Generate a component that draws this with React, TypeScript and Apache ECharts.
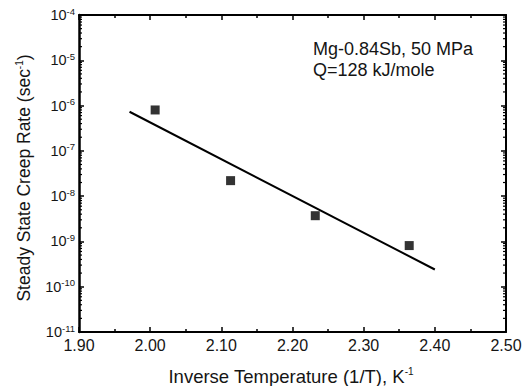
import React, { useEffect, useRef } from "react";
import * as echarts from "echarts";

const xValues = [2.007, 2.113, 2.232, 2.364];
const creepRates = [8.0e-7, 2.2e-8, 3.7e-9, 8.1e-10];
const fitX = [1.971, 2.40];
const fitY = [7.3e-7, 2.4e-10];
const yExponents = [-11, -10, -9, -8, -7, -6, -5, -4];
const minorMultipliers = [2, 3, 4, 5, 6, 7, 8, 9];

const X_MIN = 1.9;
const X_MAX = 2.5;

export default function App() {
  const ref = useRef<HTMLDivElement>(null);
  useEffect(() => {
    if (!ref.current) return;
    const chart = echarts.init(ref.current, undefined, { renderer: "svg" });
    const minorData: number[][] = [];
    yExponents.slice(0, -1).forEach((e) => {
      minorMultipliers.forEach((m) => minorData.push([X_MIN, m * Math.pow(10, e)]));
    });
    const font = "Liberation Sans, Arial, sans-serif";
    const txt = "#151515";
    const axisLine = { show: true, lineStyle: { color: "#000", width: 2 } };
    const yLabelFmt = (v: number) => {
      const e = Math.round(Math.log10(v));
      return `{b|10}{s|${e}}`;
    };
    const yRich = {
      b: { fontSize: 14.5, fontFamily: font, color: txt },
      s: { fontSize: 9.5, fontFamily: font, color: txt, padding: [0, 0, 8, 0] },
    };
    chart.setOption({
      animation: false,
      backgroundColor: "#fff",
      grid: { left: 79, right: 23, top: 15, bottom: 54, containLabel: false },
      xAxis: [
        {
          type: "value",
          min: X_MIN,
          max: X_MAX,
          interval: 0.1,
          axisLine,
          axisTick: { inside: true, length: 5, lineStyle: { color: "#000", width: 1.5 } },
          minorTick: { show: true, splitNumber: 2, length: 3, lineStyle: { color: "#000", width: 1.5 } },
          splitLine: { show: false },
          axisLabel: {
            formatter: (v: number) => v.toFixed(2),
            fontSize: 16,
            fontFamily: font,
            color: txt,
            margin: 5,
          },
        },
        {
          type: "value",
          position: "top",
          min: X_MIN,
          max: X_MAX,
          interval: 0.1,
          axisLine,
          axisTick: { inside: true, length: 5, lineStyle: { color: "#000", width: 1.5 } },
          minorTick: { show: true, splitNumber: 2, length: 3, lineStyle: { color: "#000", width: 1.5 } },
          splitLine: { show: false },
          axisLabel: { show: false },
        },
      ],
      yAxis: [
        {
          type: "log",
          logBase: 10,
          min: 1e-11,
          max: 1e-4,
          axisLine: { show: true, lineStyle: { color: "#000", width: 2.5 } },
          axisTick: { inside: true, length: 5, lineStyle: { color: "#000", width: 1.5 } },
          splitLine: { show: false },
          axisLabel: {
            formatter: yLabelFmt,
            rich: yRich,
            margin: 4,
          },
        },
        {
          type: "log",
          logBase: 10,
          min: 1e-11,
          max: 1e-4,
          position: "right",
          axisLine,
          axisTick: { inside: true, length: 5, lineStyle: { color: "#000", width: 1.5 } },
          splitLine: { show: false },
          axisLabel: { show: false },
        },
      ],
      series: [
        {
          type: "custom",
          xAxisIndex: 0,
          yAxisIndex: 0,
          silent: true,
          data: minorData,
          renderItem: (params: any, api: any) => {
            const l = api.coord([X_MIN, api.value(1)]);
            const r = api.coord([X_MAX, api.value(1)]);
            const st = { stroke: "#000", lineWidth: 1.2 };
            return {
              type: "group",
              children: [
                { type: "line", shape: { x1: l[0], y1: l[1], x2: l[0] + 3, y2: l[1] }, style: st },
                { type: "line", shape: { x1: r[0], y1: r[1], x2: r[0] - 3, y2: r[1] }, style: st },
              ],
            };
          },
        },
        {
          type: "line",
          data: fitX.map((x, i) => [x, fitY[i]]),
          symbol: "none",
          lineStyle: { color: "#000", width: 2 },
        },
        {
          type: "scatter",
          data: xValues.map((x, i) => [x, creepRates[i]]),
          symbol: "rect",
          symbolSize: 9,
          itemStyle: { color: "#000" },
        },
      ],
      graphic: [
        {
          type: "text",
          x: 24,
          y: 178,
          rotation: Math.PI / 2,
          style: {
            text: "{t|Steady State Creep Rate (sec}{s|-1}{t|)}",
            rich: {
              t: { fontSize: 17.5, fontFamily: font, fill: txt, color: txt },
              s: { fontSize: 10, fontFamily: font, fill: txt, color: txt, padding: [0, 0, 9, 0] },
            },
            align: "center",
            verticalAlign: "middle",
          },
        },
        {
          type: "text",
          x: 291,
          y: 376,
          style: {
            text: "{t|Inverse Temperature (1/T), K}{s|-1}",
            rich: {
              t: { fontSize: 18.5, fontFamily: font, fill: txt, color: txt },
              s: { fontSize: 10, fontFamily: font, fill: txt, color: txt, padding: [0, 0, 10, 0] },
            },
            align: "center",
            verticalAlign: "middle",
          },
        },
        {
          type: "text",
          left: 313,
          top: 38,
          style: {
            text: "Mg-0.84Sb, 50 MPa\nQ=128 kJ/mole",
            fontSize: 18,
            lineHeight: 21,
            fontFamily: font,
            fill: txt,
          },
        },
      ],
    });
    return () => chart.dispose();
  }, []);
  return <div ref={ref} style={{ width: 529, height: 386, position: "absolute", left: 0, top: 0 }} />;
}
